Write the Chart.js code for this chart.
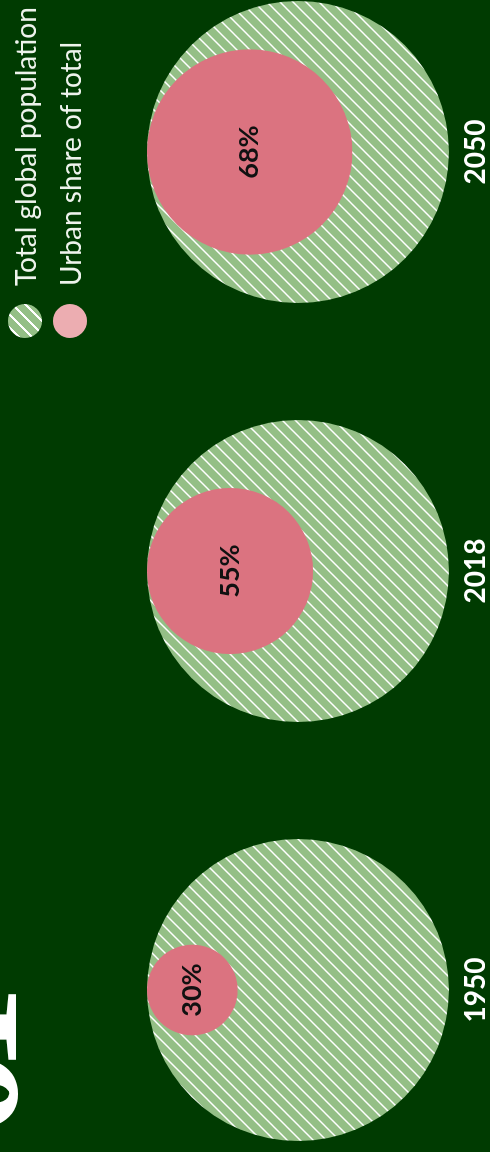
<!DOCTYPE html>
<html lang="en">
  <head>
    <meta charset="UTF-8" />
    <meta name="viewport" content="width=device-width, initial-scale=1" />
    <title>Urban share of global population</title>
    <script src="https://cdn.jsdelivr.net/npm/chart.js"></script>
    <style>
      html,
      body {
        margin: 0;
        padding: 0;
        width: 490px;
        height: 1152px;
        overflow: hidden;
        background: #003b01;
      }

      /* the chart is laid out landscape and turned a quarter to the left */
      .stage {
        position: absolute;
        left: 0;
        top: 1152px;
        width: 1152px;
        height: 490px;
        transform-origin: 0 0;
        transform: rotate(-90deg);
        background: #003b01;
        overflow: hidden;
        font-family: Lato, sans-serif;
      }
      .bignum {
        position: absolute;
        left: 14px;
        top: -133px;
        font: 700 178px/1 "Liberation Serif", serif;
        letter-spacing: -25px;
        color: #fff;
      }
      .legend {
        position: absolute;
        left: 814px;
        top: 8px;
      }
      .legend .item {
        display: flex;
        align-items: center;
        height: 34px;
        margin-bottom: 11px;
        color: #eef3ec;
        font-size: 28px;
        white-space: nowrap;
      }
      .swatch {
        width: 34px;
        height: 34px;
        border-radius: 50%;
        margin-right: 18px;
        flex: none;
      }
      .swatch.total {
        background: repeating-linear-gradient(
          135deg,
          #94bf86 0 7.6px,
          #ffffff 7.6px 9.2px
        );
      }
      .swatch.urban {
        background: #ecadb1;
      }
      canvas {
        position: absolute;
        left: 0;
        top: 0;
      }
    </style>
  </head>
  <body>
    <div class="stage">
      <canvas id="urbanChart" width="1152" height="490"></canvas>
      <div class="bignum">01</div>
      <div class="legend">
        <div class="item"><span class="swatch total"></span>Total global population</div>
        <div class="item"><span class="swatch urban"></span>Urban share of total</div>
      </div>
    </div>

    <script>
      // Data
      const years = ["1950", "2018", "2050"];
      const urbanShare = [30, 55, 68]; // % of people living in cities
      const totalShare = [100, 100, 100]; // whole population circle

      // hatched fill for the total population circles
      function hatch() {
        const s = 13;
        const c = document.createElement("canvas");
        c.width = s;
        c.height = s;
        const g = c.getContext("2d");
        g.fillStyle = "#94bf86";
        g.fillRect(0, 0, s, s);
        g.strokeStyle = "#ffffff";
        g.lineWidth = 1.5;
        g.beginPath();
        g.moveTo(-2, 2);
        g.lineTo(2, -2);
        g.moveTo(-1, s + 1);
        g.lineTo(s + 1, -1);
        g.moveTo(s - 2, s + 2);
        g.lineTo(s + 2, s - 2);
        g.stroke();
        return g.createPattern(c, "repeat");
      }

      const pctLabels = {
        id: "pctLabels",
        afterDatasetsDraw(chart) {
          const ctx = chart.ctx;
          const meta = chart.getDatasetMeta(0);
          ctx.save();
          ctx.font = "700 27px Lato";
          ctx.fillStyle = "#111111";
          ctx.textAlign = "center";
          ctx.textBaseline = "middle";
          meta.data.forEach((pt, i) => {
            ctx.fillText(urbanShare[i] + "%", pt.x, pt.y);
          });
          ctx.restore();
        },
      };

      const chart = new Chart(document.getElementById("urbanChart"), {
        type: "bubble",
        data: {
          labels: years,
          datasets: [
            {
              label: "Urban share of total",
              data: years.map((yr, i) => ({ x: yr, y: 1 - urbanShare[i] / 100, r: 1 })),
              backgroundColor: "#db7380",
              borderWidth: 0,
              hoverRadius: 0,
              clip: false,
            },
            {
              label: "Total global population",
              data: years.map((yr) => ({ x: yr, y: 0, r: 1 })),
              backgroundColor: hatch(),
              borderWidth: 0,
              hoverRadius: 0,
              clip: false,
            },
          ],
        },
        options: {
          responsive: false,
          animation: false,
          events: [],
          layout: {
            autoPadding: false,
            padding: { left: 162, right: 152, top: 147, bottom: -13 },
          },
          plugins: {
            legend: { display: false },
            tooltip: { enabled: false },
          },
          scales: {
            x: {
              type: "category",
              labels: years,
              offset: false,
              grid: { display: false, drawTicks: false },
              border: { display: false },
              ticks: {
                color: "#ffffff",
                padding: 13,
                font: { family: "Lato", weight: "700", size: 28, lineHeight: 1 },
              },
            },
            y: {
              display: false,
              min: -1,
              max: 1,
            },
          },
        },
        plugins: [pctLabels],
      });

      // one unit on the y scale = radius of a full circle
      const y = chart.scales.y;
      const unit = y.getPixelForValue(0) - y.getPixelForValue(1);
      chart.data.datasets[0].data.forEach((d, i) => (d.r = (unit * urbanShare[i]) / 100));
      chart.data.datasets[1].data.forEach((d, i) => (d.r = (unit * totalShare[i]) / 100));
      chart.update();
    </script>
  </body>
</html>
